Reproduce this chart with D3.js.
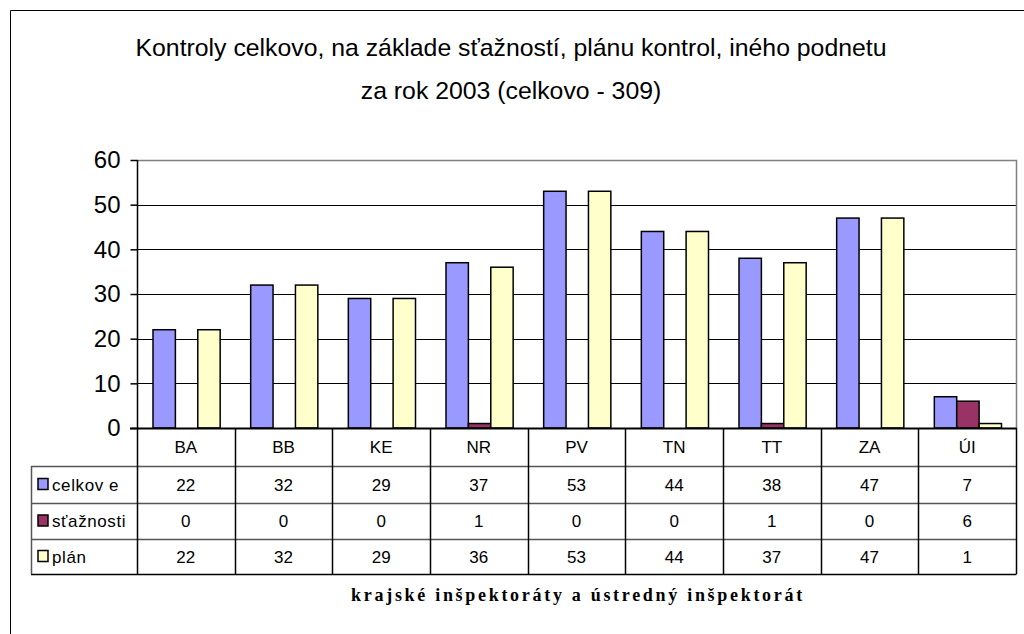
<!DOCTYPE html>
<html>
<head>
<meta charset="utf-8">
<script src="https://cdn.jsdelivr.net/npm/d3@7"></script>
<style>
  body { margin: 0; background: #fff; }
  svg { display: block; font-family: Arial, "Liberation Sans", sans-serif; }
</style>
</head>
<body>
<div id="chart-area"></div>
<script>
// Data
var categories = ["BA", "BB", "KE", "NR", "PV", "TN", "TT", "ZA", "ÚI"];
var seriesNames = ["celkov e", "sťažnosti", "plán"];
var celkovo = [22, 32, 29, 37, 53, 44, 38, 47, 7];
var staznosti = [0, 0, 0, 1, 0, 0, 1, 0, 6];
var plan = [22, 32, 29, 36, 53, 44, 37, 47, 1];
var yTicks = [0, 10, 20, 30, 40, 50, 60];
var titleLines = ["Kontroly celkovo, na základe sťažností, plánu kontrol, iného podnetu", "za rok 2003 (celkovo - 309)"];
var xTitle = "krajské inšpektoráty a ústredný inšpektorát";

var seriesValues = [celkovo, staznosti, plan];
var colors = ["#9999FF", "#993366", "#FFFFCC"];

var width = 1024, height = 634;
var plot = {left: 137, right: 1016, top: 160, bottom: 428};
var rowH = [38, 37, 36, 35]; // header row + 3 series rows
var tableLeft = 31;

var svg = d3.select("#chart-area")
    .append("svg")
    .attr("width", width)
    .attr("height", height);

// Outer chart border (runs off the right and bottom)
svg.append("path")
    .attr("d", "M10.5,700 L10.5,10.5 L1100,10.5")
    .attr("fill", "none")
    .attr("stroke", "#000")
    .attr("stroke-width", 1);

// Title
svg.append("g").selectAll("text")
    .data(titleLines)
    .enter().append("text")
    .attr("x", 511)
    .attr("y", (d, i) => 56 + i * 43)
    .attr("text-anchor", "middle")
    .attr("font-size", "24.8px")
    .attr("fill", "#000")
    .text(d => d);

// Scales
var x = d3.scaleBand()
    .domain(categories)
    .range([plot.left, plot.right])
    .paddingInner(0)
    .paddingOuter(0);

var xs = d3.scaleBand()
    .domain(d3.range(seriesNames.length))
    .range([16, x.bandwidth() - 14.5]);

var y = d3.scaleLinear()
    .domain([0, 60])
    .range([plot.bottom, plot.top]);

// Gridlines
svg.append("g").selectAll("line")
    .data(yTicks.filter(d => d > 0 && d < 60))
    .enter().append("line")
    .attr("x1", plot.left)
    .attr("x2", plot.right)
    .attr("y1", d => Math.round(y(d)) + 0.5)
    .attr("y2", d => Math.round(y(d)) + 0.5)
    .attr("stroke", "#000")
    .attr("stroke-width", 1);

// Plot area border (top and right)
svg.append("path")
    .attr("d", "M" + plot.left + "," + (plot.top + 0.5) + " L" + (plot.right + 0.5) + "," + (plot.top + 0.5) + " L" + (plot.right + 0.5) + "," + plot.bottom)
    .attr("fill", "none")
    .attr("stroke", "#808080")
    .attr("stroke-width", 1.5);

// Y axis
var leftAxis = d3.axisLeft(y).tickValues(yTicks).tickSize(7).tickPadding(10);
var yAxisG = svg.append("g")
    .attr("class", "left axis")
    .attr("transform", "translate(" + (plot.left + 0.5) + ",0)")
    .call(leftAxis);
yAxisG.select(".domain").remove();
yAxisG.selectAll(".tick line").attr("stroke", "#000").attr("stroke-width", 1.5);
yAxisG.selectAll("text")
    .attr("font-size", "24px")
    .attr("font-family", "Arial, 'Liberation Sans', sans-serif")
    .attr("fill", "#000");

// Bars
var groups = svg.append("g").selectAll("g")
    .data(categories)
    .enter().append("g")
    .attr("transform", d => "translate(" + x(d) + ",0)");

groups.selectAll("rect")
    .data((d, i) => seriesValues.map((vals, s) => ({s: s, v: vals[i]})))
    .enter().append("rect")
    .filter(d => d.v > 0)
    .attr("x", d => xs(d.s))
    .attr("y", d => y(d.v))
    .attr("width", xs.bandwidth())
    .attr("height", d => plot.bottom - y(d.v))
    .attr("fill", d => colors[d.s])
    .attr("stroke", "#000")
    .attr("stroke-width", 1.5);

// Data table
var rowTops = [plot.bottom];
rowH.forEach((h, i) => rowTops.push(rowTops[i] + h));
var tableBottom = rowTops[rowTops.length - 1];

var table = svg.append("g").attr("class", "data-table");

// horizontal lines of the series rows
table.selectAll("line.h")
    .data(rowTops.slice(1))
    .enter().append("line")
    .attr("class", "h")
    .attr("x1", tableLeft)
    .attr("x2", plot.right + 0.5)
    .attr("y1", d => d + 0.5)
    .attr("y2", d => d + 0.5)
    .attr("stroke", (d, i) => i === rowH.length - 1 ? "#000" : "#555")
    .attr("stroke-width", 1.5);

// vertical category dividers
table.selectAll("line.v")
    .data(categories.map(c => x(c)).concat([plot.right]))
    .enter().append("line")
    .attr("class", "v")
    .attr("x1", d => Math.round(d) + 0.5)
    .attr("x2", d => Math.round(d) + 0.5)
    .attr("y1", (d, i) => i === 0 ? plot.top : plot.bottom)
    .attr("y2", tableBottom)
    .attr("stroke", "#000")
    .attr("stroke-width", 1.5);

// left edge of legend column
table.append("line")
    .attr("x1", tableLeft + 0.5).attr("x2", tableLeft + 0.5)
    .attr("y1", rowTops[1]).attr("y2", tableBottom)
    .attr("stroke", "#555").attr("stroke-width", 1.5);

// baseline over the table
table.append("line")
    .attr("x1", plot.left - 7).attr("x2", plot.right + 0.5)
    .attr("y1", plot.bottom + 0.5).attr("y2", plot.bottom + 0.5)
    .attr("stroke", "#000").attr("stroke-width", 2);

// header row (category names)
table.selectAll("text.cat")
    .data(categories)
    .enter().append("text")
    .attr("class", "cat")
    .attr("x", d => x(d) + x.bandwidth() / 2)
    .attr("y", rowTops[0] + rowH[0] / 2 + 6)
    .attr("text-anchor", "middle")
    .attr("font-size", "17px")
    .text(d => d);

// value rows
seriesValues.forEach((vals, s) => {
    var cy = rowTops[s + 1] + rowH[s + 1] / 2 + 6;
    table.append("g").selectAll("text")
        .data(vals)
        .enter().append("text")
        .attr("x", (d, i) => x(categories[i]) + x.bandwidth() / 2)
        .attr("y", cy)
        .attr("text-anchor", "middle")
        .attr("font-size", "17px")
        .text(d => d);

    // legend key
    table.append("rect")
        .attr("x", 38)
        .attr("y", cy - 12)
        .attr("width", 10)
        .attr("height", 11)
        .attr("fill", colors[s])
        .attr("stroke", "#000")
        .attr("stroke-width", 1.5);

    table.append("text")
        .attr("x", 52)
        .attr("y", cy)
        .attr("font-size", "17px")
        .attr("letter-spacing", "0.6px")
        .text(seriesNames[s]);
});

// X axis title
svg.append("text")
    .attr("x", 578)
    .attr("y", 601)
    .attr("text-anchor", "middle")
    .attr("font-family", "'Liberation Serif', 'Times New Roman', serif")
    .attr("font-weight", "bold")
    .attr("font-size", "18px")
    .attr("letter-spacing", "2.7px")
    .text(xTitle);
</script>
</body>
</html>
